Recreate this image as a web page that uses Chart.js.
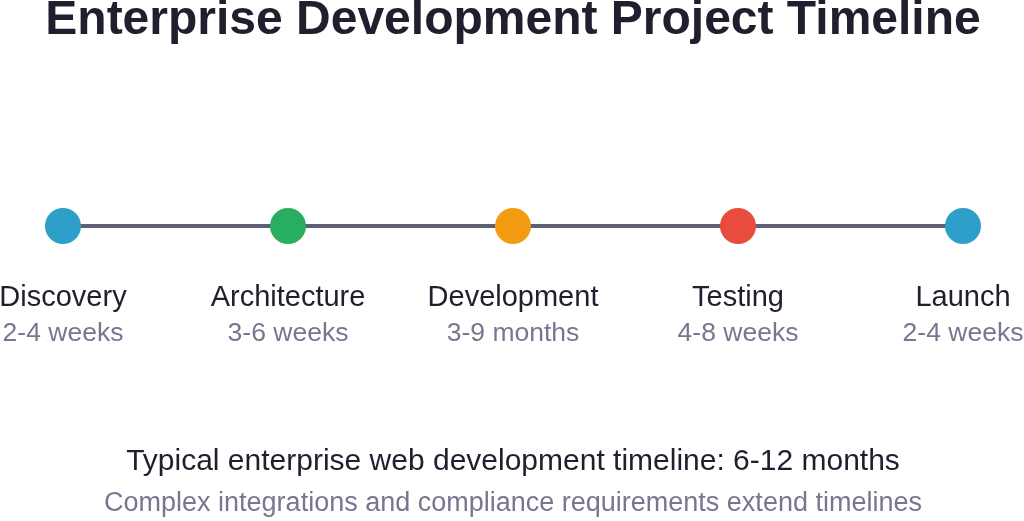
<!DOCTYPE html>
<html><head><meta charset="utf-8">
<script src="https://cdn.jsdelivr.net/npm/chart.js"></script>
<style>html,body{margin:0;padding:0;background:#fff}#w{width:1024px;height:521px}</style>
</head><body><div id="w"><canvas id="c"></canvas></div>
<script>
const phases = ["Discovery","Architecture","Development","Testing","Launch"];
const durations = ["2-4 weeks","3-6 weeks","3-9 months","4-8 weeks","2-4 weeks"];
const positions = [0,1,2,3,4];
const colors = ["#2E9FC9","#27AE60","#F39C12","#E74C3C","#2E9FC9"];
const titleText = "Enterprise Development Project Timeline";
const summary = "Typical enterprise web development timeline: 6-12 months";
const note = "Complex integrations and compliance requirements extend timelines";

const textPlugin = {
  id:'txt',
  afterDraw(chart){
    const ctx = chart.ctx, xs = chart.scales.x, ys = chart.scales.y;
    ctx.save();
    ctx.textAlign='center'; ctx.textBaseline='middle';
    ctx.fillStyle='#1f1f2e'; ctx.font='bold 48px "Liberation Sans", Arial, sans-serif';
    ctx.fillText(titleText, 513, 21);
    const yc = ys.getPixelForValue(0.5);
    phases.forEach((p,i)=>{
      const x = xs.getPixelForValue(positions[i]);
      ctx.fillStyle='#1f1f2e'; ctx.font='29px "Liberation Sans", Arial, sans-serif';
      ctx.fillText(p, x, yc+72);
      ctx.fillStyle='#777790'; ctx.font='26.5px "Liberation Sans", Arial, sans-serif';
      ctx.fillText(durations[i], x, yc+108);
    });
    ctx.fillStyle='#1f1f2e'; ctx.font='30px "Liberation Sans", Arial, sans-serif';
    ctx.fillText(summary, 513, 462);
    ctx.fillStyle='#777790'; ctx.font='27px "Liberation Sans", Arial, sans-serif';
    ctx.fillText(note, 513, 504);
    ctx.restore();
  }
};
new Chart(document.getElementById('c'),{
  type:'scatter',
  data:{datasets:[{
    data: positions.map(p=>({x:p,y:0.5})),
    showLine:true, borderColor:'#5f5f73', borderWidth:4,
    pointRadius:18, pointHoverRadius:18, pointBackgroundColor:colors,
    pointBorderColor:'#ffffff', pointBorderWidth:0, clip:false
  }]},
  options:{
    responsive:true, maintainAspectRatio:false, animation:false,
    layout:{padding:{left:63,right:61,top:126,bottom:195}},
    plugins:{legend:{display:false},tooltip:{enabled:false}},
    scales:{x:{type:'linear',min:0,max:4,display:false},y:{min:0,max:1,display:false}}
  },
  plugins:[textPlugin]
});
</script></body></html>
